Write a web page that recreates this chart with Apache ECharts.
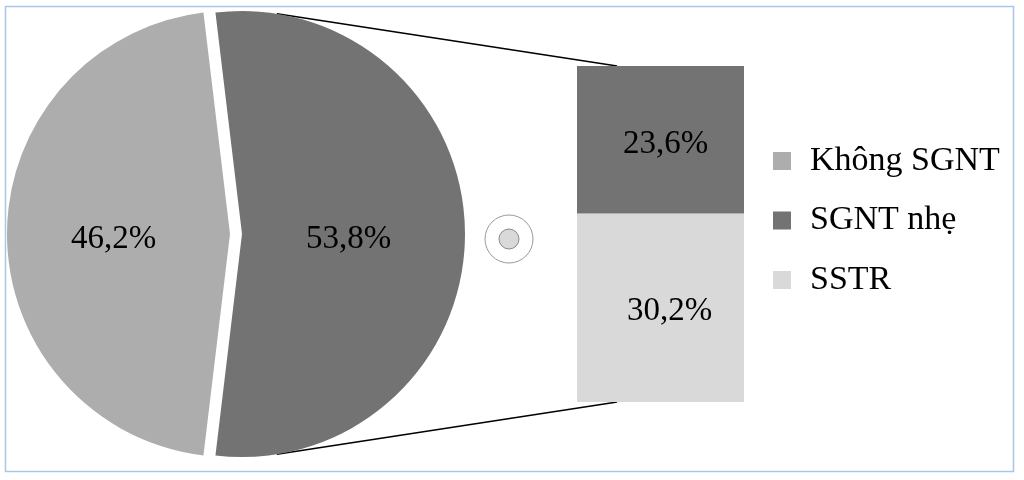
<!DOCTYPE html>
<html><head><meta charset="utf-8">
<script src="https://cdn.jsdelivr.net/npm/echarts@6/dist/echarts.min.js"></script>
<style>html,body{margin:0;padding:0;background:#fff}#c{width:1024px;height:480px}</style>
</head><body><div id="c"></div>
<script>
// ---- data ----
const pieNames = ['SGNT nhẹ + SSTR', 'Không SGNT'];
const pieValues = [53.8, 46.2];
const barCategories = ['Khác'];
const barNames = ['SSTR', 'SGNT nhẹ'];
const sstrValues = [30.2];
const sgntNheValues = [23.6];
const legendNames = ['Không SGNT', 'SGNT nhẹ', 'SSTR'];

// ---- style / layout ----
const FONT = 'Liberation Serif';
const C_DARK = '#737373', C_MID = '#ADADAD', C_LIGHT = '#D9D9D9';
const fmt = v => v.toFixed(1).replace('.', ',') + '%';
const total = pieValues.reduce((a, b) => a + b, 0);
const otherTotal = sstrValues[0] + sgntNheValues[0];
const pieCenter = [230, 234], pieR = 223, explode = 12;
const startAngle = 90 + (pieValues[0] / total * 360 - 180) / 2;
const gridBox = { left: 577, top: 66, width: 167, height: 336 };
const lblStyle = { fontFamily: FONT, fontSize: 33, color: '#000' };

const chart = echarts.init(document.getElementById('c'), null, { renderer: 'canvas' });
chart.setOption({
  animation: false,
  backgroundColor: '#fff',
  legend: {
    data: legendNames, orient: 'vertical', left: 768, top: 139,
    itemWidth: 18, itemHeight: 18, itemGap: 25.5, icon: 'rect', selectedMode: false,
    textStyle: { fontFamily: FONT, fontSize: 34, color: '#000', lineHeight: 34, padding: [0, 0, 0, 14] }
  },
  grid: { left: gridBox.left, top: gridBox.top, width: gridBox.width, height: gridBox.height },
  xAxis: { type: 'category', data: barCategories, show: false },
  yAxis: { type: 'value', min: 0, max: otherTotal, show: false },
  series: [
    {
      type: 'pie', center: pieCenter, radius: [0, pieR], startAngle: startAngle, clockwise: true,
      avoidLabelOverlap: false, selectedMode: 'single', selectedOffset: explode,
      emphasis: { disabled: true },
      label: Object.assign({ show: true, position: 'inside', formatter: p => '{v|' + fmt(p.value) + '}' }, lblStyle),
      labelLine: { show: false },
      data: [
        { name: pieNames[0], value: pieValues[0], selected: true, itemStyle: { color: C_DARK },
          label: { rich: { v: { fontFamily: FONT, fontSize: 33, color: '#000', padding: [10, 16, 0, 0] } } } },
        { name: pieNames[1], value: pieValues[1], itemStyle: { color: C_MID },
          label: { rich: { v: { fontFamily: FONT, fontSize: 33, color: '#000', padding: [10, 4, 0, 0] } } } }
      ]
    },
    {
      type: 'bar', name: barNames[0], stack: 'other', barWidth: '100%', data: sstrValues,
      itemStyle: { color: C_LIGHT }, emphasis: { disabled: true },
      label: Object.assign({ show: true, position: 'inside', offset: [9, 4], formatter: p => fmt(p.value) }, lblStyle)
    },
    {
      type: 'bar', name: barNames[1], stack: 'other', barWidth: '100%', data: sgntNheValues,
      itemStyle: { color: C_DARK }, emphasis: { disabled: true },
      label: Object.assign({ show: true, position: 'inside', offset: [5, 5], formatter: p => fmt(p.value) }, lblStyle)
    }
  ]
});

// connectors computed from pie geometry and the bar's axis scale
const topPx = chart.convertToPixel({ xAxisIndex: 0, yAxisIndex: 0 }, [0, otherTotal]);
const botPx = chart.convertToPixel({ xAxisIndex: 0, yAxisIndex: 0 }, [0, 0]);
const barLeft = topPx[0] - gridBox.width / 2;
const endX = barLeft + gridBox.width * 0.24;
const a = 81 * Math.PI / 180;
const cx = pieCenter[0] + explode, cy = pieCenter[1];
const p1 = [cx + pieR * Math.cos(a), cy - pieR * Math.sin(a)];
const p2 = [cx + pieR * Math.cos(a), cy + pieR * Math.sin(a)];

chart.setOption({
  graphic: [
    { type: 'rect', shape: { x: 5.5, y: 6.5, width: 1008, height: 465 }, silent: true,
      style: { fill: 'none', stroke: '#A9C6EA', lineWidth: 1.5 } },
    { type: 'line', shape: { x1: p1[0], y1: p1[1], x2: endX, y2: topPx[1] }, silent: true,
      style: { stroke: '#000', lineWidth: 1.7 } },
    { type: 'line', shape: { x1: p2[0], y1: p2[1], x2: endX, y2: botPx[1] }, silent: true,
      style: { stroke: '#000', lineWidth: 1.7 } },
    { type: 'circle', shape: { cx: 509, cy: 239, r: 24 }, silent: true,
      style: { fill: '#fff', stroke: '#9a9a9a', lineWidth: 1 } },
    { type: 'circle', shape: { cx: 509, cy: 239, r: 10 }, silent: true,
      style: { fill: C_LIGHT, stroke: '#8a8a8a', lineWidth: 1 } }
  ]
});
</script></body></html>
